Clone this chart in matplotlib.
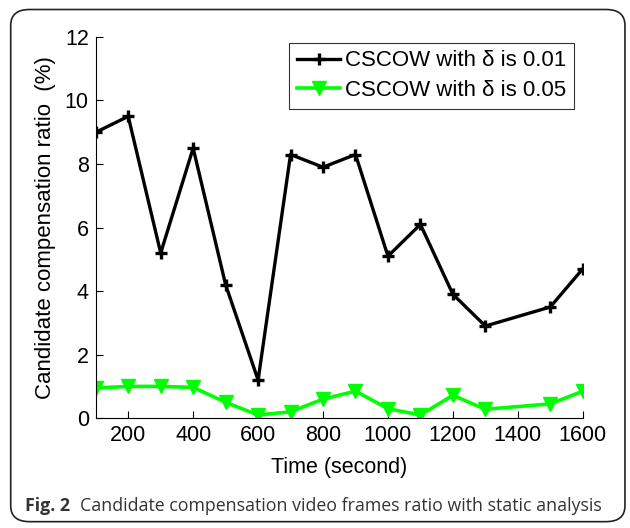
import matplotlib
matplotlib.use("Agg")
import matplotlib.pyplot as plt
from matplotlib.patches import FancyBboxPatch

# time points (second)
time_s = [100, 200, 300, 400, 500, 600, 700, 800, 900, 1000, 1100, 1200, 1300, 1500, 1600]
# candidate compensation ratio (%)
ratio_001 = [9.0, 9.5, 5.2, 8.5, 4.2, 1.2, 8.3, 7.9, 8.3, 5.1, 6.1, 3.9, 2.9, 3.5, 4.7]
ratio_005 = [0.95, 1.0, 1.0, 0.97, 0.5, 0.1, 0.2, 0.6, 0.85, 0.3, 0.1, 0.72, 0.28, 0.45, 0.85]

x_ticks = [200, 400, 600, 800, 1000, 1200, 1400, 1600]
y_ticks = [0, 2, 4, 6, 8, 10, 12]

plt.rcParams['font.family'] = ['Liberation Sans', 'DejaVu Sans']

fig = plt.figure(figsize=(6.3, 5.28), dpi=100)
ax = fig.add_axes([0.152, 0.208, 0.773, 0.722])

# rounded frame around whole figure
frame = FancyBboxPatch((0.017, 0.012), 0.975, 0.97, boxstyle="round,pad=0,rounding_size=0.03",
                       transform=fig.transFigure, facecolor='none', edgecolor='#222222',
                       linewidth=1.2, zorder=0)
fig.patches.append(frame)

ax.plot(time_s, ratio_001, color='black', linewidth=2.4, marker='+', markersize=8,
        markeredgewidth=2.4, label='CSCOW with δ is 0.01')
ax.plot(time_s, ratio_005, color='#00ff00', linewidth=2.6, marker='v', markersize=10,
        label='CSCOW with δ is 0.05')

ax.set_xlim(100, 1600)
ax.set_ylim(0, 12)
ax.set_xticks(x_ticks)
ax.set_yticks(y_ticks)
ax.tick_params(direction='in', labelsize=15.5, length=5, width=0.8, pad=5)
for side in ('top', 'right'):
    ax.spines[side].set_visible(False)

ax.set_xlabel('Time (second)', fontsize=15.5, labelpad=8)
ax.set_ylabel('Candidate compensation ratio  (%)', fontsize=16, labelpad=6)

leg = ax.legend(loc='upper right', bbox_to_anchor=(0.983, 0.985), fontsize=16, frameon=True,
                fancybox=False, edgecolor='black', handlelength=1.95, handletextpad=0.23,
                borderpad=0.35, labelspacing=0.38, borderaxespad=0)
leg.get_frame().set_linewidth(0.8)

fig.text(0.04, 0.032, 'Fig. 2', fontsize=12.8, fontweight='bold', family='Open Sans',
         color='#333333')
fig.text(0.127, 0.032, 'Candidate compensation video frames ratio with static analysis',
         fontsize=12.8, family='Open Sans', color='#333333')

fig.savefig('out.png', dpi=100)
